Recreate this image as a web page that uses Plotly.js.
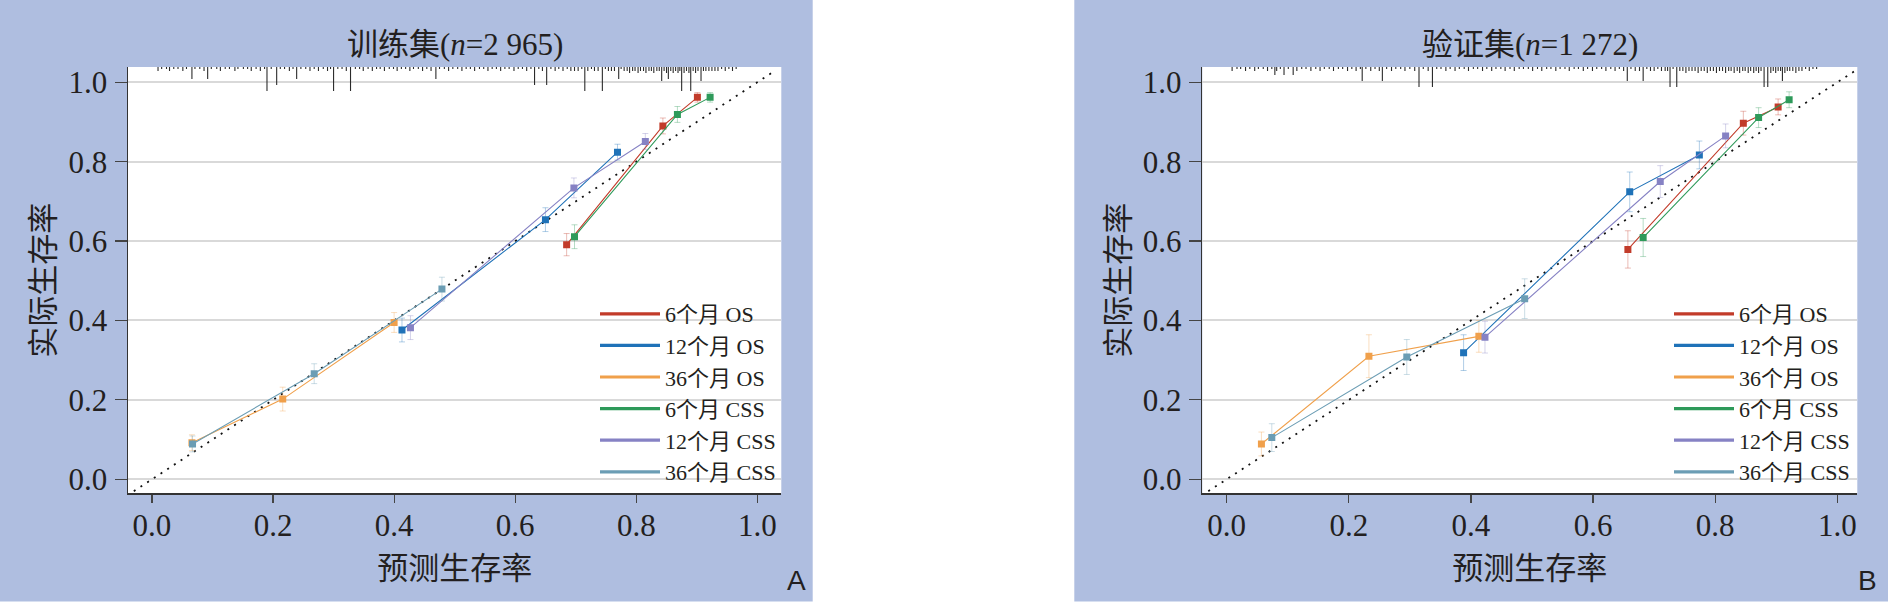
<!DOCTYPE html>
<html><head><meta charset="utf-8">
<script src="https://cdn.plot.ly/plotly-3.0.1.min.js"></script>
<style>html,body{margin:0;padding:0;background:#fff;}#chart{width:1888px;height:603px;}</style>
</head><body><div id="chart"></div>
<script>
// ---------- data ----------
const seriesNames = ['6个月 OS','12个月 OS','36个月 OS','6个月 CSS','12个月 CSS','36个月 CSS'];
const seriesColors = ['#C23B2A','#1F72B8','#F0A04B','#2E9A5A','#8682C4','#6B9DB4'];

// Training set (n = 2 965): predicted vs observed, 3 groups per series
const trainPred = [[0.685,0.844,0.901],[0.413,0.650,0.769],[0.066,0.216,0.400],[0.698,0.868,0.922],[0.427,0.697,0.815],[0.067,0.268,0.479]];
const trainObs  = [[0.591,0.890,0.962],[0.376,0.654,0.824],[0.092,0.202,0.395],[0.611,0.919,0.962],[0.382,0.734,0.851],[0.089,0.266,0.479]];
const trainErr  = [[0.028,0.020,0.012],[0.030,0.030,0.020],[0.020,0.030,0.025],[0.030,0.020,0.012],[0.030,0.025,0.020],[0.020,0.025,0.030]];

// Validation set (n = 1 272)
const validPred = [[0.657,0.846,0.903],[0.388,0.660,0.774],[0.057,0.233,0.413],[0.682,0.871,0.921],[0.423,0.710,0.817],[0.074,0.295,0.488]];
const validObs  = [[0.579,0.897,0.938],[0.319,0.724,0.817],[0.089,0.310,0.360],[0.609,0.911,0.956],[0.358,0.750,0.865],[0.105,0.308,0.455]];
const validErr  = [[0.047,0.030,0.020],[0.045,0.050,0.035],[0.030,0.054,0.040],[0.048,0.025,0.020],[0.040,0.040,0.030],[0.035,0.044,0.050]];

// Rug of predicted values along the top (short spikes, then tall spikes)
const trainRugX = [
  0.010,0.016,0.024,0.029,0.036,0.043,0.051,0.057,0.066,0.071,
  0.079,0.086,0.092,0.098,0.107,0.113,0.121,0.128,0.137,0.142,
  0.151,0.158,0.164,0.172,0.179,0.186,0.190,0.197,0.206,0.212,
  0.219,0.227,0.233,0.239,0.246,0.254,0.261,0.268,0.275,0.283,
  0.290,0.295,0.300,0.307,0.314,0.321,0.328,0.336,0.343,0.349,
  0.357,0.364,0.371,0.377,0.384,0.392,0.399,0.405,0.412,0.419,
  0.426,0.432,0.440,0.447,0.454,0.461,0.469,0.475,0.483,0.490,
  0.497,0.505,0.512,0.519,0.526,0.533,0.541,0.548,0.555,0.562,
  0.569,0.576,0.583,0.590,0.598,0.605,0.612,0.619,0.626,0.632,
  0.639,0.645,0.652,0.659,0.666,0.672,0.679,0.686,0.692,0.698,
  0.704,0.710,0.715,0.720,0.726,0.731,0.737,0.744,0.749,0.754,
  0.759,0.764,0.771,0.775,0.780,0.785,0.789,0.794,0.798,0.803,
  0.807,0.812,0.816,0.821,0.825,0.829,0.834,0.838,0.842,0.846,
  0.850,0.853,0.857,0.861,0.865,0.869,0.872,0.875,0.879,0.883,
  0.887,0.890,0.894,0.898,0.902,0.907,0.911,0.915,0.920,0.925,
  0.930,0.935,0.941,0.947,0.953,0.959,0.965];
const trainRugN = [
  2,1,1,2,1,1,2,1,2,1,
  1,2,2,1,1,2,1,1,2,1,
  1,1,2,1,2,1,2,1,2,1,
  1,2,1,2,1,1,2,1,2,1,
  2,1,2,1,1,2,2,1,1,2,
  1,2,1,1,2,1,1,2,1,1,
  2,1,1,2,1,2,2,1,1,2,
  1,1,2,1,1,2,1,1,2,1,
  1,2,1,1,2,1,1,2,1,2,
  1,2,2,1,2,1,2,1,2,2,
  2,1,2,2,1,2,2,2,1,2,
  2,2,2,1,2,2,3,2,2,3,
  2,2,3,2,2,3,2,2,3,2,
  3,2,2,3,2,3,2,2,3,2,
  3,2,2,3,2,3,2,2,2,2,
  2,2,1,2,1,2,1];
const trainTallX = [0.066,0.092,0.190,0.206,0.239,0.300,0.328,0.469,0.632,0.652,0.715,0.744,0.771,0.842,0.853,0.875,0.890,0.907];
const trainTallN = [4,4,10,7,4,10,10,4,7,7,10,10,4,4,4,10,10,4];

const validRugX = [
  0.009,0.017,0.023,0.031,0.038,0.046,0.052,0.060,0.067,0.074,
  0.082,0.088,0.101,0.115,0.123,0.130,0.138,0.146,0.153,0.160,
  0.168,0.175,0.183,0.190,0.198,0.205,0.212,0.219,0.228,0.236,
  0.243,0.250,0.262,0.270,0.277,0.285,0.292,0.300,0.308,0.322,
  0.330,0.344,0.351,0.359,0.366,0.374,0.381,0.389,0.396,0.404,
  0.411,0.419,0.426,0.434,0.441,0.449,0.456,0.464,0.471,0.479,
  0.486,0.494,0.501,0.509,0.516,0.524,0.531,0.539,0.546,0.554,
  0.561,0.569,0.576,0.584,0.591,0.599,0.606,0.614,0.621,0.629,
  0.636,0.643,0.650,0.662,0.669,0.676,0.688,0.694,0.700,0.706,
  0.712,0.718,0.722,0.731,0.742,0.747,0.752,0.757,0.762,0.767,
  0.772,0.777,0.782,0.787,0.792,0.797,0.802,0.807,0.812,0.817,
  0.822,0.826,0.831,0.836,0.840,0.845,0.849,0.854,0.858,0.863,
  0.867,0.871,0.875,0.891,0.895,0.899,0.903,0.907,0.914,0.918,
  0.922,0.927,0.932,0.937,0.942,0.948,0.954,0.960,0.966];
const validRugN = [
  2,1,1,2,1,2,1,1,2,1,
  2,1,1,2,1,1,2,1,2,1,
  1,2,1,1,2,1,2,1,1,2,
  1,2,1,2,1,1,2,1,2,1,
  2,1,1,2,1,2,1,1,2,1,
  1,2,1,2,1,1,2,1,2,1,
  1,1,2,1,2,1,1,2,1,1,
  2,1,1,2,1,2,1,1,2,1,
  2,1,2,1,2,2,1,2,2,1,
  2,2,2,1,2,2,3,2,2,2,
  3,2,2,3,2,2,3,2,2,3,
  2,2,3,2,3,2,2,3,2,3,
  2,3,2,3,2,3,2,2,3,2,
  2,2,3,2,2,1,2,1,1];
const validTallX = [0.079,0.094,0.109,0.222,0.255,0.315,0.337,0.656,0.682,0.726,0.737,0.880,0.886,0.910];
const validTallN = [4,4,4,7,7,10,10,7,7,10,10,10,10,7];

const xTickVals = [0, 0.2, 0.4, 0.6, 0.8, 1.0];
const xTickText = ['0.0','0.2','0.4','0.6','0.8','1.0'];
const yTickVals = [0, 0.2, 0.4, 0.6, 0.8, 1.0];
const yTickText = ['0.0','0.2','0.4','0.6','0.8','1.0'];
const diagonal = [-0.03, 1.03];
const panelTitles = ['训练集(<i>n</i>=2 965)', '验证集(<i>n</i>=1 272)'];
const panelLetters = ['A', 'B'];
const xTitle = '预测生存率';
const yTitle = '实际生存率';

// ---------- layout helpers ----------
const W = 1888, H = 603;
const BLUE = '#AFBEE0';
const TXT = '#231f20';
const SERIF = 'Liberation Serif, Noto Sans CJK SC, serif';
const CJK = 'Noto Sans CJK SC, sans-serif';

function hexA(hex, a) {
  const r = parseInt(hex.slice(1,3),16), g = parseInt(hex.slice(3,5),16), b = parseInt(hex.slice(5,7),16);
  return `rgba(${r},${g},${b},${a})`;
}

const traces = [];
function addPanel(pred, obs, err, rugX, rugN, tallX, tallN, xa, ya, ra, legendId) {
  // rug hanging from the top edge
  traces.push({type:'bar', x: rugX.concat(tallX), y: rugN.concat(tallN), xaxis: xa, yaxis: ra, width: 0.0018,
    marker:{color:'#2a2a2a', line:{width:0}}, showlegend:false, hoverinfo:'skip'});
  // diagonal reference
  traces.push({type:'scatter', mode:'lines', x: diagonal, y: diagonal, xaxis: xa, yaxis: ya,
    line:{color:'#111', width:1.8, dash:'2px,6px'}, showlegend:false, hoverinfo:'skip'});
  for (let i = 0; i < seriesNames.length; i++) {
    traces.push({type:'scatter', mode:'lines+markers', x: pred[i], y: obs[i], xaxis: xa, yaxis: ya,
      name: seriesNames[i], showlegend:false,
      line:{color: seriesColors[i], width:1.1},
      marker:{symbol:'square', size:7, color: seriesColors[i]},
      error_y:{type:'data', array: err[i], visible:true, color: hexA(seriesColors[i],0.35), thickness:1, width:3}});
  }
  for (let i = 0; i < seriesNames.length; i++) {
    traces.push({type:'scatter', mode:'lines', x:[null], y:[null], xaxis: xa, yaxis: ya,
      name: seriesNames[i], legend: legendId, showlegend:true,
      line:{color: seriesColors[i], width:3.2}});
  }
}
addPanel(trainPred, trainObs, trainErr, trainRugX, trainRugN, trainTallX, trainTallN, 'x', 'y', 'y3', 'legend');
addPanel(validPred, validObs, validErr, validRugX, validRugN, validTallX, validTallN, 'x2', 'y2', 'y4', 'legend2');

const yDom = [1 - 493.3/H, 1 - 67/H];
function xAxis(domain, range, anchor) {
  return {domain, range, anchor, showgrid:false, zeroline:false, showline:true, linecolor:'#333', linewidth:1.5,
    ticks:'outside', ticklen:8, tickwidth:1.2, tickcolor:'#444', tickmode:'array', tickvals:xTickVals, ticktext:xTickText,
    tickfont:{family:SERIF, size:31, color:TXT}, ticklabelstandoff:-4,
    title:{text:xTitle, font:{family:CJK, size:31, color:TXT}, standoff:0}, fixedrange:true};
}
function yAxis(anchor) {
  return {domain:yDom, range:[-0.0353, 1.0385], anchor, showgrid:true, gridcolor:'#D9D9D9', gridwidth:2, zeroline:false,
    showline:true, linecolor:'#333', linewidth:1.5, ticks:'outside', ticklen:12, tickwidth:1.2, tickcolor:'#444',
    tickmode:'array', tickvals:yTickVals, ticktext:yTickText, tickfont:{family:SERIF, size:31, color:TXT}, ticklabelstandoff:1,
    title:{text:yTitle, font:{family:CJK, size:31, color:TXT}, standoff:4}, fixedrange:true};
}
const legendBase = {bgcolor:'rgba(0,0,0,0)', borderwidth:0, font:{family:SERIF, size:22, color:TXT},
  xanchor:'left', yanchor:'top', tracegroupgap:0, itemwidth:60};

const layout = {
  width: W, height: H, margin:{l:0, r:0, t:0, b:0},
  paper_bgcolor: BLUE, plot_bgcolor:'#FFFFFF', showlegend:true,
  xaxis: xAxis([128/W, 781.3/W], [-0.0396, 1.0396], 'y'),
  yaxis: yAxis('x'),
  xaxis2: xAxis([1202.3/W, 1857.3/W], [-0.0398, 1.0326], 'y2'),
  yaxis2: yAxis('x2'),
  yaxis3: {overlaying:'y', anchor:'x', range:[213, 0], visible:false, fixedrange:true},
  yaxis4: {overlaying:'y2', anchor:'x2', range:[213, 0], visible:false, fixedrange:true},
  legend: Object.assign({x: 595/W, y: 1 - 293/H}, legendBase),
  legend2: Object.assign({x: 1669/W, y: 1 - 293/H}, legendBase),
  shapes: [
    {type:'rect', xref:'paper', yref:'paper', x0:812.7/W, x1:1074.3/W, y0:0, y1:1, fillcolor:'#FFFFFF', line:{width:0}, layer:'below'},
    {type:'rect', xref:'paper', yref:'paper', x0:0, x1:1, y0:0, y1:1.5/H, fillcolor:'#FFFFFF', line:{width:0}, layer:'below'}
  ],
  annotations: [
    {text: panelTitles[0], xref:'paper', yref:'paper', x:(128+781.3)/2/W, y:1-44/H, xanchor:'center', yanchor:'middle', showarrow:false, font:{family:SERIF, size:31, color:TXT}},
    {text: panelTitles[1], xref:'paper', yref:'paper', x:(1202.3+1857.3)/2/W, y:1-44/H, xanchor:'center', yanchor:'middle', showarrow:false, font:{family:SERIF, size:31, color:TXT}},
    {text: panelLetters[0], xref:'paper', yref:'paper', x:796/W, y:1-580/H, xanchor:'center', yanchor:'middle', showarrow:false, font:{family:'Liberation Sans, Arial, sans-serif', size:28, color:TXT}},
    {text: panelLetters[1], xref:'paper', yref:'paper', x:1867/W, y:1-580/H, xanchor:'center', yanchor:'middle', showarrow:false, font:{family:'Liberation Sans, Arial, sans-serif', size:28, color:TXT}}
  ]
};

Plotly.newPlot('chart', traces, layout, {staticPlot:true, displayModeBar:false});
</script>
</body></html>
